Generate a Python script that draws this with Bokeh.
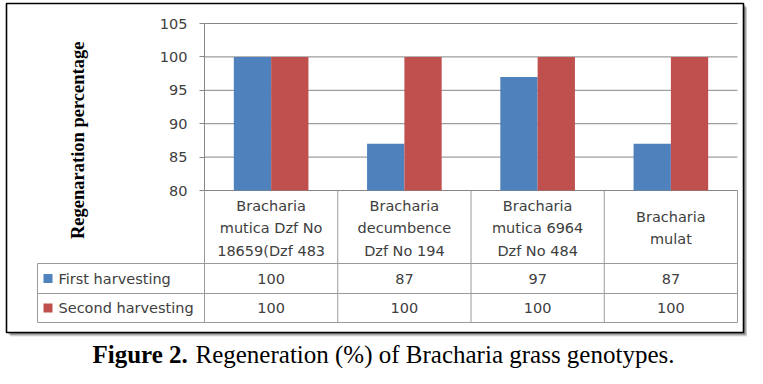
import math
from bokeh.plotting import figure
from bokeh.models import Range1d, LinearAxis, FixedTicker
from bokeh.core.properties import value
from bokeh.embed import file_html
from bokeh.resources import INLINE

# ---------------- data ----------------
categories = [
    "Bracharia\nmutica Dzf No\n18659(Dzf 483",
    "Bracharia\ndecumbence\nDzf No 194",
    "Bracharia\nmutica 6964\nDzf No 484",
    "Bracharia\nmulat",
]
series_names = ["First harvesting", "Second harvesting"]
first_harvesting = [100, 87, 97, 87]
second_harvesting = [100, 100, 100, 100]
y_ticks = [80, 85, 90, 95, 100, 105]
y_title = "Regenaration  percentage"
caption_bold = "Figure 2."
caption_text = "Regeneration (%) of Bracharia grass genotypes."
colors = ["#4F81BD", "#C0504D"]

# ---------------- layout (pixels) ----------------
W, H = 747, 368
PL, PR, PT, PB = 204, 737, 23, 190           # plot area
TL = 37                                      # table left edge
ROW_LINES = [263, 293, 322]                  # header bottom, row1 bottom, row2 bottom
ROW_CENTERS = [278, 307.5]
HEADER_CENTER = 227.5
LINE_STEP = 22.5
TEXT_FONT = "DejaVu Sans"
TEXT_SIZE = "14.5px"
TEXT_COLOR = "#404040"
GRID_COLOR = "#868686"
TABLE_COLOR = "#9A9A9A"

series = [first_harvesting, second_harvesting]
n = len(categories)
ymin, ymax = y_ticks[0], y_ticks[-1]
xs = (PR - PL) / n
ys = (PB - PT) / (ymax - ymin)

p = figure(
    width=W, height=H,
    x_range=Range1d(-PL / xs, n + (W - PR) / xs),
    y_range=Range1d(ymin - (H - PB) / ys, ymax + PT / ys),
    x_axis_type=None, y_axis_type=None,
    toolbar_location=None, output_backend="svg",
    min_border=0, outline_line_color=None,
)
p.background_fill_color = "white"
p.border_fill_color = "white"
p.extra_x_ranges = {"px": Range1d(0, W)}
p.extra_y_ranges = {"px": Range1d(H, 0)}

# outer frame with soft shadow
BOX = dict(left=6, right=743, top=3, bottom=332)
for off, a in [(4, 0.12), (3, 0.18), (2, 0.25)]:
    p.quad(left=[BOX["left"] + off], right=[BOX["right"] + off],
           top=[BOX["top"] + off], bottom=[BOX["bottom"] + off],
           x_range_name="px", y_range_name="px",
           fill_color="black", fill_alpha=a, line_color=None)
p.quad(left=[BOX["left"]], right=[BOX["right"]], top=[BOX["top"]], bottom=[BOX["bottom"]],
       x_range_name="px", y_range_name="px",
       fill_color="white", line_color="black", line_width=1.6)

# gridlines
p.segment(x0=[0] * len(y_ticks), x1=[n] * len(y_ticks), y0=y_ticks, y1=y_ticks,
          line_color=GRID_COLOR, line_width=1)

# bars
bw = 0.28
for k, (vals, col) in enumerate(zip(series, colors)):
    off = (k - (len(series) - 1) / 2) * bw
    p.vbar(x=[i + 0.5 + off for i in range(n)], top=vals, bottom=ymin,
           width=bw, fill_color=col, line_color=None)

# y axis
ax = LinearAxis(
    fixed_location=0,
    ticker=FixedTicker(ticks=y_ticks),
    bounds=(ymin, ymax),
    major_tick_out=5, major_tick_in=0,
    minor_tick_out=0, minor_tick_in=0,
    axis_line_color=GRID_COLOR, major_tick_line_color=GRID_COLOR,
    major_label_text_font=TEXT_FONT, major_label_text_font_size=TEXT_SIZE,
    major_label_text_color=TEXT_COLOR, major_label_standoff=12,
)
p.add_layout(ax, "left")

# data table lines
p.segment(x0=list(range(n + 1)), x1=list(range(n + 1)),
          y0=[PB] * (n + 1), y1=[ROW_LINES[-1]] * (n + 1),
          y_range_name="px", line_color=TABLE_COLOR, line_width=1)
p.segment(x0=[TL], x1=[TL], y0=[ROW_LINES[0]], y1=[ROW_LINES[-1]],
          x_range_name="px", y_range_name="px", line_color=TABLE_COLOR, line_width=1)
p.segment(x0=[TL] * 3, x1=[PR] * 3, y0=ROW_LINES, y1=ROW_LINES,
          x_range_name="px", y_range_name="px", line_color=TABLE_COLOR, line_width=1)

# category labels
lx, ly, lt = [], [], []
for i, cat in enumerate(categories):
    lines = cat.split("\n")
    for j, line in enumerate(lines):
        lx.append(i + 0.5)
        ly.append(HEADER_CENTER + (j - (len(lines) - 1) / 2) * LINE_STEP)
        lt.append(line)
p.text(x=lx, y=ly, text=lt, y_range_name="px",
       text_font=value(TEXT_FONT), text_font_size=TEXT_SIZE, text_color=TEXT_COLOR,
       text_align="center", text_baseline="middle")

# legend keys and names
p.rect(x=[47.5] * len(series), y=ROW_CENTERS, width=9, height=9,
       x_range_name="px", y_range_name="px", fill_color=colors, line_color=None)
p.text(x=[58] * len(series), y=ROW_CENTERS, text=series_names,
       x_range_name="px", y_range_name="px",
       text_font=value(TEXT_FONT), text_font_size=TEXT_SIZE, text_color=TEXT_COLOR,
       text_align="left", text_baseline="middle")

# values in table
for k, vals in enumerate(series):
    p.text(x=[i + 0.5 for i in range(n)], y=[ROW_CENTERS[k]] * n,
           text=[str(v) for v in vals], y_range_name="px",
           text_font=value(TEXT_FONT), text_font_size=TEXT_SIZE, text_color=TEXT_COLOR,
           text_align="center", text_baseline="middle")

# y title
p.text(x=[77], y=[137.5], text=[y_title], angle=math.pi / 2,
       x_range_name="px", y_range_name="px",
       text_font=value("Liberation Serif"), text_font_style="bold",
       text_font_size="18.5px", text_color="black",
       text_align="center", text_baseline="middle")

# caption
p.text(x=[92], y=[354], text=[caption_bold], x_range_name="px", y_range_name="px",
       text_font=value("Liberation Serif"), text_font_style="bold",
       text_font_size="25px", text_color="black",
       text_align="left", text_baseline="alphabetic")
p.text(x=[195], y=[354], text=[caption_text], x_range_name="px", y_range_name="px",
       text_font=value("Liberation Serif"),
       text_font_size="25px", text_color="black",
       text_align="left", text_baseline="alphabetic")

open("out.html", "w").write(file_html(p, INLINE))
